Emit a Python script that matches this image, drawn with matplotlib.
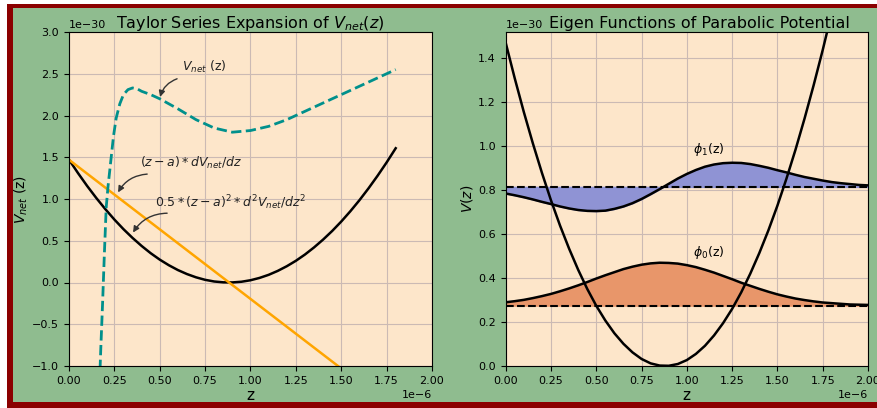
import matplotlib
matplotlib.use("Agg")
import matplotlib.pyplot as plt
from matplotlib.patches import Rectangle
import numpy as np

# units: z in 1e-6, V in 1e-30
Z_UNIT = 1e-6
V_UNIT = 1e-30

# fitted parabola (used in both panels)
z_fit = [0.00, 0.05, 0.10, 0.15, 0.20, 0.25, 0.30, 0.35, 0.40, 0.45,
         0.50, 0.55, 0.60, 0.65, 0.70, 0.75, 0.80, 0.85, 0.90, 0.95,
         1.00, 1.05, 1.10, 1.15, 1.20, 1.25, 1.30, 1.35, 1.40, 1.45,
         1.50, 1.55, 1.60, 1.65, 1.70, 1.75, 1.80]
v_fit = [1.471, 1.309, 1.156, 1.013, 0.879, 0.754, 0.639, 0.534, 0.438, 0.351,
         0.274, 0.207, 0.149, 0.101, 0.062, 0.032, 0.012, 0.002, 0.001, 0.009,
         0.027, 0.055, 0.092, 0.139, 0.195, 0.260, 0.335, 0.420, 0.514, 0.617,
         0.730, 0.853, 0.985, 1.127, 1.278, 1.438, 1.608]

# first order term (straight line)
z_lin = [0.0, 1.8]
v_lin = [1.47, -1.53]

# actual V_net(z)
z_vnet = [0.165, 0.175, 0.185, 0.195, 0.205, 0.215, 0.23, 0.245, 0.26, 0.28,
          0.30, 0.325, 0.35, 0.375, 0.40, 0.45, 0.50, 0.55, 0.60, 0.70,
          0.80, 0.90, 1.00, 1.10, 1.20, 1.30, 1.40, 1.50, 1.60, 1.70, 1.80]
v_vnet = [-1.4, -0.8, -0.25, 0.35, 0.9, 1.15, 1.45, 1.75, 1.97, 2.14,
          2.25, 2.31, 2.33, 2.32, 2.29, 2.25, 2.2, 2.14, 2.08, 1.95,
          1.85, 1.80, 1.82, 1.87, 1.95, 2.05, 2.15, 2.25, 2.35, 2.45, 2.55]

# eigen functions (right panel)
z_eig = [0.00, 0.05, 0.10, 0.15, 0.20, 0.25, 0.30, 0.35, 0.40, 0.45,
         0.50, 0.55, 0.60, 0.65, 0.70, 0.75, 0.80, 0.85, 0.90, 0.95,
         1.00, 1.05, 1.10, 1.15, 1.20, 1.25, 1.30, 1.35, 1.40, 1.45,
         1.50, 1.55, 1.60, 1.65, 1.70, 1.75, 1.80, 1.85, 1.90, 1.95, 2.00]
E0 = 0.275
E1 = 0.815
phi0 = [0.290, 0.295, 0.301, 0.309, 0.318, 0.328, 0.340, 0.353, 0.367, 0.382,
        0.398, 0.413, 0.427, 0.441, 0.452, 0.461, 0.467, 0.470, 0.469, 0.466,
        0.459, 0.450, 0.438, 0.425, 0.410, 0.395, 0.379, 0.365, 0.351, 0.338,
        0.326, 0.316, 0.307, 0.300, 0.294, 0.289, 0.286, 0.283, 0.280, 0.279, 0.278]
phi1 = [0.785, 0.777, 0.768, 0.758, 0.747, 0.737, 0.726, 0.717, 0.710, 0.706,
        0.705, 0.707, 0.715, 0.726, 0.741, 0.760, 0.782, 0.805, 0.829, 0.853,
        0.874, 0.892, 0.907, 0.917, 0.923, 0.925, 0.924, 0.919, 0.911, 0.902,
        0.891, 0.881, 0.870, 0.860, 0.852, 0.844, 0.837, 0.832, 0.828, 0.824, 0.822]

GREEN = "#8fbc8f"
RED = "#8b0000"
PEACH = "#fde6ca"
GRIDC = "#cbbab4"

fig = plt.figure(figsize=(8.78, 4.08), dpi=100, facecolor=GREEN)
W, H = 878.0, 408.0


def strip(x0, y0, x1, y1, color):
    # rectangle given in pixels from the top-left corner
    fig.add_artist(Rectangle((x0 / W, 1 - y1 / H), (x1 - x0) / W, (y1 - y0) / H,
                             transform=fig.transFigure, facecolor=color,
                             edgecolor="none", zorder=-20))


# white margin + red frame (the right side is cropped off)
strip(0, 0, 7, H, "white")
strip(0, 0, W, 4, "white")
strip(7, 4, 13, H, RED)
strip(7, 4, W, 8, RED)
strip(7, 402, W, H, RED)

ax1 = fig.add_axes([69 / W, 42 / H, 363 / W, 334 / H])
ax2 = fig.add_axes([505.7 / W, 42 / H, 362.3 / W, 334 / H])

for ax in (ax1, ax2):
    ax.set_facecolor(PEACH)
    ax.grid(True, color=GRIDC, lw=0.8)
    ax.set_axisbelow(True)
    ax.tick_params(labelsize=8)
    ax.xaxis.get_offset_text().set_fontsize(8)
    ax.yaxis.get_offset_text().set_fontsize(8)
    ax.set_xlim(0, 2e-6)
    ax.set_xticks(np.array([0, 0.25, 0.5, 0.75, 1.0, 1.25, 1.5, 1.75, 2.0]) * Z_UNIT)
    ax.set_xlabel("z", fontsize=11, labelpad=2)

zf = np.array(z_fit) * Z_UNIT
vf = np.array(v_fit) * V_UNIT

# --- left: Taylor expansion ---
ax1.plot(zf, vf, color="black", lw=1.8)
ax1.plot(np.array(z_lin) * Z_UNIT, np.array(v_lin) * V_UNIT, color="orange", lw=1.8)
ax1.plot(np.array(z_vnet) * Z_UNIT, np.array(v_vnet) * V_UNIT,
         color="#00908c", lw=2, ls="--")
ax1.set_ylim(-1e-30, 3e-30)
ax1.set_yticks(np.arange(-1.0, 3.01, 0.5) * V_UNIT)
ax1.set_ylabel(r"$V_{net}$ (z)", fontsize=10, labelpad=2)
ax1.set_title(r"Taylor Series Expansion of $V_{net}(z)$", fontsize=11.5, y=1.0, pad=3)

arrow = dict(arrowstyle="-|>", color="#333333", lw=1, mutation_scale=9,
             connectionstyle="arc3,rad=0.3")
labels = [
    (r"$V_{net}$ (z)", (0.62, 2.58), (0.61, 2.45), (0.498, 2.19)),
    (r"$(z-a)*dV_{net}/dz$", (0.39, 1.43), (0.446, 1.30), (0.263, 1.05)),
    (r"$0.5*(z-a)^2*d^2V_{net}/dz^2$", (0.474, 0.956), (0.556, 0.83), (0.345, 0.57)),
]
for txt, (tx, ty), (ax_, ay_), (hx, hy) in labels:
    ax1.text(tx * Z_UNIT, ty * V_UNIT, txt, fontsize=9, va="center", ha="left",
             color="#222222")
    ax1.annotate("", xy=(hx * Z_UNIT, hy * V_UNIT), xytext=(ax_ * Z_UNIT, ay_ * V_UNIT),
                 arrowprops=arrow)

# --- right: eigen functions ---
ze = np.array(z_eig) * Z_UNIT
p0 = np.array(phi0) * V_UNIT
p1 = np.array(phi1) * V_UNIT
ax2.fill_between(ze, E1 * V_UNIT, p1, color="#8f93d4")
ax2.fill_between(ze, E0 * V_UNIT, p0, color="#e8966a")
ax2.plot(ze, p1, color="black", lw=1.8)
ax2.plot(ze, p0, color="black", lw=1.8)
ax2.axhline(E1 * V_UNIT, color="black", ls="--", lw=1.5)
ax2.axhline(E0 * V_UNIT, color="black", ls="--", lw=1.5)
ax2.plot(zf, vf, color="black", lw=1.8)
ax2.set_ylim(0, 1.52e-30)
ax2.set_yticks(np.arange(0, 1.41, 0.2) * V_UNIT)
ax2.set_ylabel(r"$V(z)$", fontsize=10, labelpad=2)
ax2.set_title("Eigen Functions of Parabolic Potential", fontsize=11.5, x=0.534, y=1.0, pad=3)
ax2.text(1.118 * Z_UNIT, 0.984 * V_UNIT, r"$\phi_1$(z)", fontsize=9, ha="center", va="center")
ax2.text(1.118 * Z_UNIT, 0.518 * V_UNIT, r"$\phi_0$(z)", fontsize=9, ha="center", va="center")

fig.savefig("out.png", dpi=100, facecolor=fig.get_facecolor())
